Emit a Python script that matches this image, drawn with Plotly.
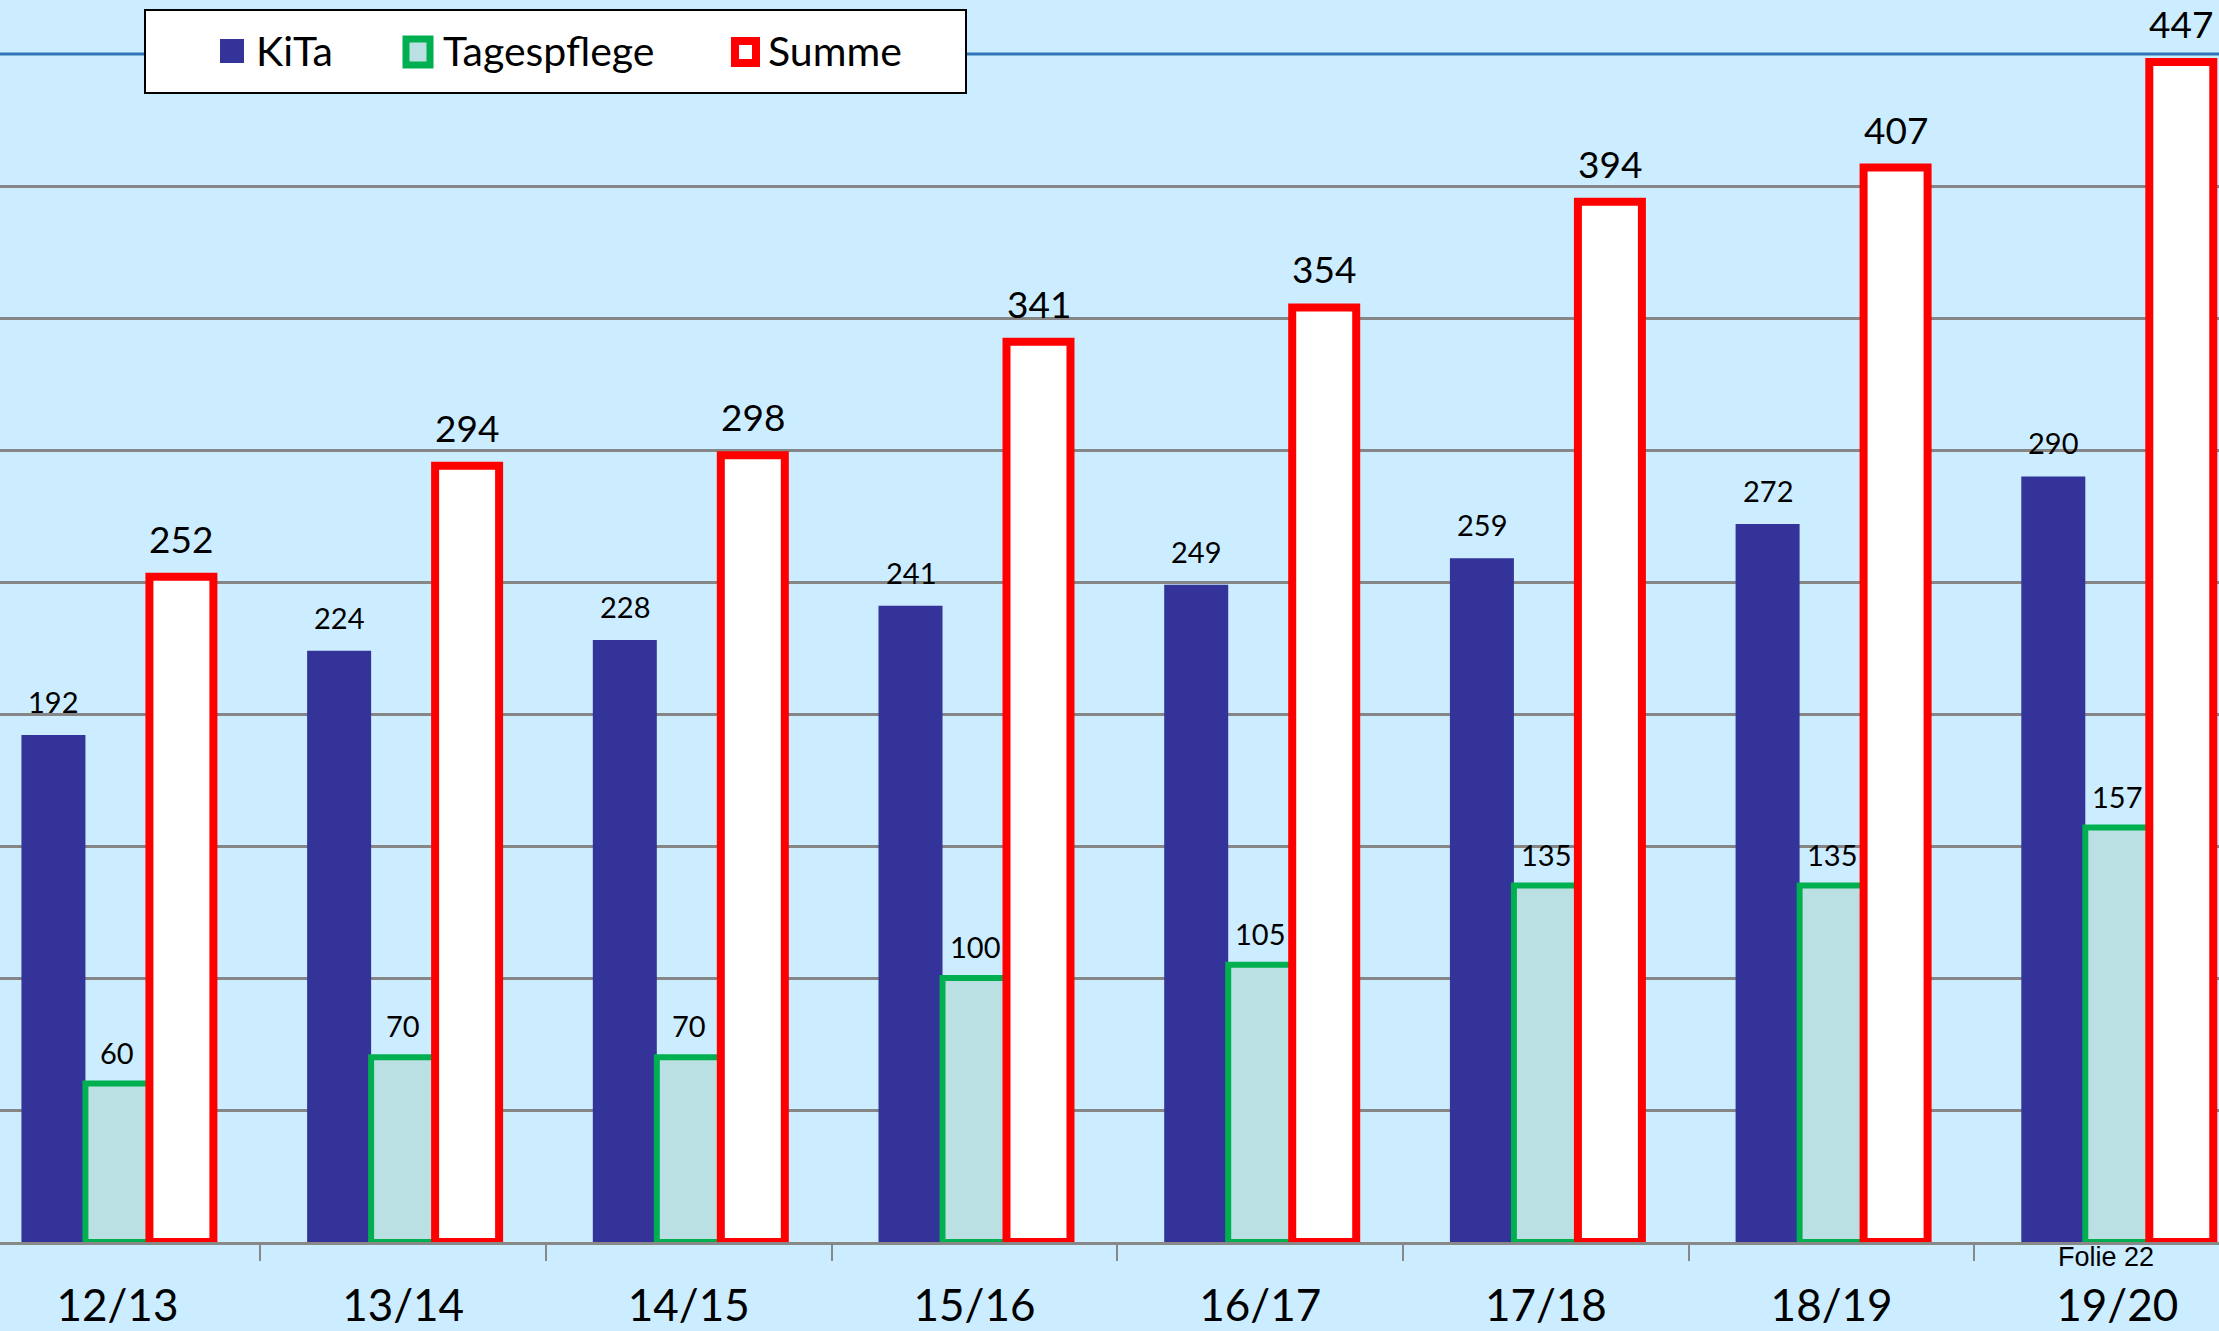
import plotly.graph_objects as go

# ---- data ----
categories = ["12/13", "13/14", "14/15", "15/16", "16/17", "17/18", "18/19", "19/20"]
series_names = ["KiTa", "Tagespflege", "Summe"]
kita = [192, 224, 228, 241, 249, 259, 272, 290]
tagespflege = [60, 70, 70, 100, 105, 135, 135, 157]
summe = [252, 294, 298, 341, 354, 394, 407, 447]
grid_values = [50, 100, 150, 200, 250, 300, 350, 400]
top_line_value = 450
footer_text = "Folie 22"

W, H = 2219, 1331
PLOT_BOTTOM = 1242  # pixel y of baseline
BARGAP = 0.328

BG = "#CCECFF"
KITA_C = "#333399"
GREEN_LINE = "#00B050"
GREEN_FILL = "#BBE0E3"
RED = "#FF0000"
FONT = "Lato, Carlito, Calibri, sans-serif"

x = list(range(len(categories)))
series_values = [kita, tagespflege, summe]
series_styles = [
    dict(color=KITA_C, line=dict(width=0)),
    dict(color=GREEN_FILL, line=dict(color=GREEN_LINE, width=6)),
    dict(color="white", line=dict(color=RED, width=8)),
]
label_sizes = [29, 29, 37]
label_shift = [14, 12, 14]

fig = go.Figure()
for name, vals, mk in zip(series_names, series_values, series_styles):
    fig.add_trace(go.Bar(x=x, y=vals, name=name, marker=mk, cliponaxis=False))

# value labels placed over each bar (offset from group centre like plotly's grouping)
slot = (1 - BARGAP) / len(series_names)
annotations = []
for k, vals in enumerate(series_values):
    off = (k - (len(series_names) - 1) / 2) * slot
    for xi, v in zip(x, vals):
        annotations.append(dict(x=xi + off, y=v, xref="x", yref="y", text=str(v),
                                showarrow=False, xanchor="center", yanchor="bottom",
                                yshift=label_shift[k],
                                font=dict(family=FONT, size=label_sizes[k], color="black")))

def px_x(p):
    return p / W

def px_y(p):
    return (PLOT_BOTTOM - p) / PLOT_BOTTOM

shapes = []
shapes.append(dict(type="line", xref="paper", x0=0, x1=1, yref="y",
                   y0=top_line_value, y1=top_line_value,
                   line=dict(color="#2E75B6", width=3), layer="between"))
shapes.append(dict(type="rect", xref="paper", yref="paper",
                   x0=px_x(145), x1=px_x(966), y0=px_y(93), y1=px_y(10),
                   fillcolor="white", line=dict(color="black", width=2), layer="above"))
shapes.append(dict(type="rect", xref="paper", yref="paper",
                   x0=px_x(220), x1=px_x(244), y0=px_y(63), y1=px_y(39),
                   fillcolor=KITA_C, line=dict(width=0), layer="above"))
shapes.append(dict(type="rect", xref="paper", yref="paper",
                   x0=px_x(406), x1=px_x(430), y0=px_y(65), y1=px_y(39),
                   fillcolor=GREEN_FILL, line=dict(color=GREEN_LINE, width=7), layer="above"))
shapes.append(dict(type="rect", xref="paper", yref="paper",
                   x0=px_x(735), x1=px_x(756), y0=px_y(63), y1=px_y(41),
                   fillcolor="white", line=dict(color=RED, width=8), layer="above"))

for name, xs in zip(series_names, [254, 441, 766]):
    annotations.append(dict(text=name, xref="paper", yref="paper",
                            x=px_x(xs), y=px_y(51), xanchor="left", yanchor="middle",
                            showarrow=False, font=dict(family=FONT, size=41, color="black")))
annotations.append(dict(text=footer_text, xref="paper", yref="paper",
                        x=px_x(2106), y=px_y(1257), xanchor="center", yanchor="middle",
                        showarrow=False,
                        font=dict(family="Liberation Sans, Arial, sans-serif", size=27, color="black")))

fig.update_layout(
    width=W, height=H,
    margin=dict(l=0, r=0, t=0, b=H - PLOT_BOTTOM, pad=0, autoexpand=False),
    paper_bgcolor=BG, plot_bgcolor=BG,
    barmode="group", bargap=BARGAP, bargroupgap=0,
    showlegend=False,
    shapes=shapes, annotations=annotations,
    font=dict(family=FONT),
)
fig.update_xaxes(
    range=[-0.411, 7.356], automargin=False,
    tickmode="array", tickvals=x, ticktext=categories,
    ticks="", showgrid=False, zeroline=False,
    showline=True, linecolor="#888888", linewidth=3,
    tickfont=dict(family=FONT, size=44, color="black"),
    ticklabelstandoff=23,
    minor=dict(tickmode="array", tickvals=[i + 0.5 for i in x], ticks="outside",
               ticklen=16, tickcolor="#888888", tickwidth=2, showgrid=False),
    layer="below traces",
)
fig.update_yaxes(
    range=[0, PLOT_BOTTOM / 2.64], automargin=False,
    tickmode="array", tickvals=grid_values,
    showticklabels=False, showgrid=True, gridcolor="#868686", gridwidth=2.5,
    zeroline=False, showline=False,
)

fig.write_html("out.html", config={"displayModeBar": False},
               post_script="document.body.style.margin='0';document.body.style.overflow='hidden';")
